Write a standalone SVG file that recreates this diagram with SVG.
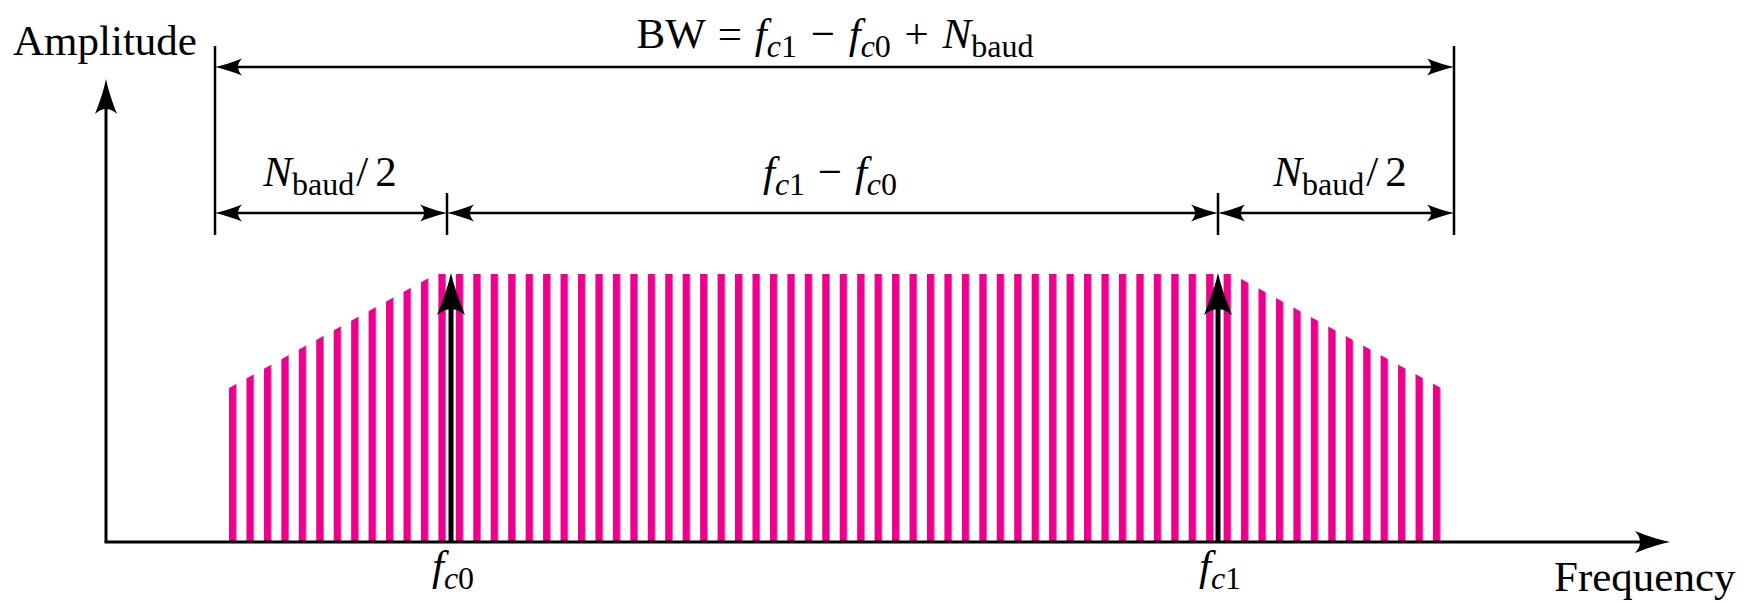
<svg xmlns="http://www.w3.org/2000/svg" width="1756" height="605" viewBox="0 0 1756 605">
<style>
.t{font-family:"Liberation Serif","Times New Roman",serif;font-size:43px;fill:#000}
.i{font-style:italic}
.s{font-size:32px}
.dim{stroke:#000;stroke-width:2.5;fill:none}
.ax{stroke:#000;stroke-width:3;fill:none}
.imp{stroke:#000;stroke-width:5;fill:none}
</style>
<defs>
<marker id="ah" markerUnits="userSpaceOnUse" viewBox="-30 -12 34 24" markerWidth="34" markerHeight="24" refX="-14" refY="0" orient="auto-start-reverse" overflow="visible">
<path d="M0,0 Q-12,-2.5 -27,-8.5 Q-19,0 -27,8.5 Q-12,2.5 0,0 Z" fill="#000"/>
</marker>
<marker id="axh" markerUnits="userSpaceOnUse" viewBox="-40 -14 44 28" markerWidth="44" markerHeight="28" refX="-18" refY="0" orient="auto" overflow="visible">
<path d="M0,0 Q-15,-3 -35,-11 Q-25,0 -35,11 Q-15,3 0,0 Z" fill="#000"/>
</marker>
<marker id="imh" markerUnits="userSpaceOnUse" viewBox="-46 -16 50 32" markerWidth="50" markerHeight="32" refX="-24" refY="0" orient="auto" overflow="visible">
<path d="M0,0 Q-18,-4 -42,-14 Q-30,0 -42,14 Q-18,4 0,0 Z" fill="#000"/>
</marker>
<pattern id="stripes" patternUnits="userSpaceOnUse" x="229" y="0" width="17.449" height="20">
<rect x="0" y="0" width="7.4" height="20" fill="#EC008C"/>
</pattern>
</defs>

<g id="spectrum">
<polygon points="229,388 436,274 1232,274 1441,388 1441,542 229,542" fill="url(#stripes)"/>
</g>

<g id="axes">
<line class="ax" x1="106" y1="542" x2="106" y2="97" marker-end="url(#axh)"/>
<line class="ax" x1="104.5" y1="542" x2="1652" y2="542" marker-end="url(#axh)"/>
</g>

<g id="carrier-fc0">
<line class="imp" x1="451" y1="542" x2="451" y2="297" marker-end="url(#imh)"/>
<text class="t" x="453" y="580" text-anchor="middle"><tspan class="i">f</tspan><tspan class="s" dy="9"><tspan class="i">c</tspan>0</tspan></text>
</g>

<g id="carrier-fc1">
<line class="imp" x1="1218" y1="542" x2="1218" y2="297" marker-end="url(#imh)"/>
<text class="t" x="1220" y="580" text-anchor="middle"><tspan class="i">f</tspan><tspan class="s" dy="9"><tspan class="i">c</tspan>1</tspan></text>
</g>

<g id="connectors">
<line class="dim" x1="215" y1="46" x2="215" y2="235"/>
<line class="dim" x1="1454" y1="46" x2="1454" y2="235"/>
<line class="dim" x1="447" y1="193" x2="447" y2="235"/>
<line class="dim" x1="1218" y1="193" x2="1218" y2="235"/>
<line class="dim" x1="229" y1="67" x2="1440" y2="67" marker-start="url(#ah)" marker-end="url(#ah)"/>
<line class="dim" x1="229" y1="213" x2="433" y2="213" marker-start="url(#ah)" marker-end="url(#ah)"/>
<line class="dim" x1="461" y1="213" x2="1204" y2="213" marker-start="url(#ah)" marker-end="url(#ah)"/>
<line class="dim" x1="1232" y1="213" x2="1440" y2="213" marker-start="url(#ah)" marker-end="url(#ah)"/>
</g>

<g id="label-bw">
<text class="t" x="835" y="48" text-anchor="middle">BW<tspan dx="2"> = </tspan><tspan class="i" dx="2">f</tspan><tspan class="s" dy="9"><tspan class="i">c</tspan>1</tspan><tspan dy="-9" dx="3"> − </tspan><tspan class="i" dx="3">f</tspan><tspan class="s" dy="9"><tspan class="i">c</tspan>0</tspan><tspan dy="-9" dx="3"> + </tspan><tspan class="i" dx="3">N</tspan><tspan class="s" dy="9">baud</tspan></text>
</g>

<g id="label-left">
<text class="t" x="330" y="186" text-anchor="middle"><tspan class="i">N</tspan><tspan class="s" dy="9">baud</tspan><tspan dy="-9" dx="2">/</tspan><tspan dx="7">2</tspan></text>
</g>

<g id="label-mid">
<text class="t" x="830" y="186" text-anchor="middle"><tspan class="i">f</tspan><tspan class="s" dy="9"><tspan class="i">c</tspan>1</tspan><tspan dy="-9" dx="2"> − </tspan><tspan class="i" dx="2">f</tspan><tspan class="s" dy="9"><tspan class="i">c</tspan>0</tspan></text>
</g>

<g id="label-right">
<text class="t" x="1340" y="186" text-anchor="middle"><tspan class="i">N</tspan><tspan class="s" dy="9">baud</tspan><tspan dy="-9" dx="2">/</tspan><tspan dx="7">2</tspan></text>
</g>

<g id="axis-labels">
<text class="t" x="13" y="55">Amplitude</text>
<text class="t" x="1554" y="591">Frequency</text>
</g>
</svg>
